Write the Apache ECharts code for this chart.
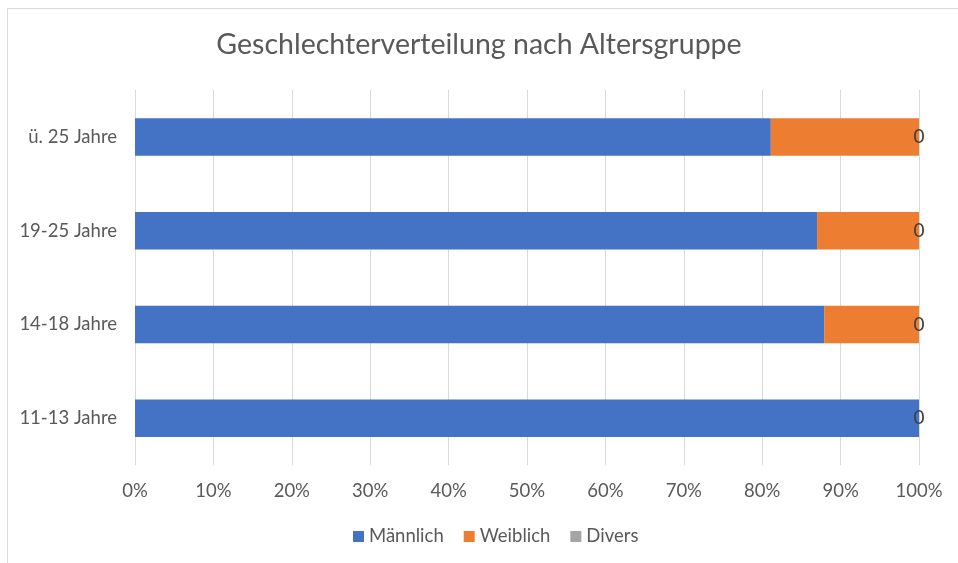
<!DOCTYPE html>
<html>
<head>
<meta charset="utf-8">
<script src="https://cdn.jsdelivr.net/npm/echarts@6/dist/echarts.min.js"></script>
<style>
  html, body { margin: 0; padding: 0; background: #fff; }
  #frame { position: absolute; left: 7px; top: 8px; width: 960px; height: 560px;
    border-left: 1px solid #d9d9d9; border-top: 1px solid #d9d9d9; }
  #chart { position: absolute; left: 0; top: 0; width: 958px; height: 563px; }
</style>
</head>
<body>
<div id="frame"></div>
<div id="chart"></div>
<script>
// Altersgruppen (unten nach oben)
var categories = ['11-13 Jahre', '14-18 Jahre', '19-25 Jahre', 'ü. 25 Jahre'];
// Anteile in Prozent
var maennlich = [100, 87.9, 87.0, 81.1];
var weiblich = [0, 12.1, 13.0, 18.9];
var divers = [0, 0, 0, 0];
var xTicks = [0, 10, 20, 30, 40, 50, 60, 70, 80, 90, 100];

var fontName = 'Lato';
var textColor = '#595959';

var chart = echarts.init(document.getElementById('chart'), null, { renderer: 'canvas' });

var option = {
    animation: false,
    title: {
        text: 'Geschlechterverteilung nach Altersgruppe',
        left: 'center',
        top: 25,
        textStyle: { fontFamily: fontName, fontSize: 28.5, fontWeight: 'normal', color: textColor }
    },
    legend: {
        bottom: 12,
        left: 348,
        itemWidth: 11,
        itemHeight: 11,
        itemGap: 20,
        icon: 'rect',
        textStyle: { fontFamily: fontName, fontSize: 18.5, color: textColor }
    },
    grid: { left: 135, right: 39, top: 90, bottom: 98, containLabel: false },
    xAxis: {
        type: 'value',
        min: xTicks[0],
        max: xTicks[xTicks.length - 1],
        interval: 10,
        axisLine: { show: false },
        axisTick: { show: false },
        splitLine: { lineStyle: { color: '#d9d9d9', width: 1 } },
        axisLabel: { formatter: '{value}%', fontFamily: fontName, fontSize: 18.5, color: textColor, margin: 17 }
    },
    yAxis: {
        type: 'category',
        data: categories,
        axisLine: { show: false },
        axisTick: { show: false },
        axisLabel: { fontFamily: fontName, fontSize: 18.5, color: textColor, margin: 18 }
    },
    series: [
        { name: 'Männlich', type: 'bar', stack: 'g', barWidth: '40%', data: maennlich,
          itemStyle: { color: '#4472c4' } },
        { name: 'Weiblich', type: 'bar', stack: 'g', data: weiblich,
          itemStyle: { color: '#ed7d31' } },
        { name: 'Divers', type: 'bar', stack: 'g', data: divers,
          itemStyle: { color: '#a5a5a5' },
          label: { show: true, position: 'inside', fontFamily: fontName, fontSize: 19, color: '#404040' } }
    ]
};

chart.setOption(option);
window.onresize = chart.resize;
</script>
</body>
</html>
